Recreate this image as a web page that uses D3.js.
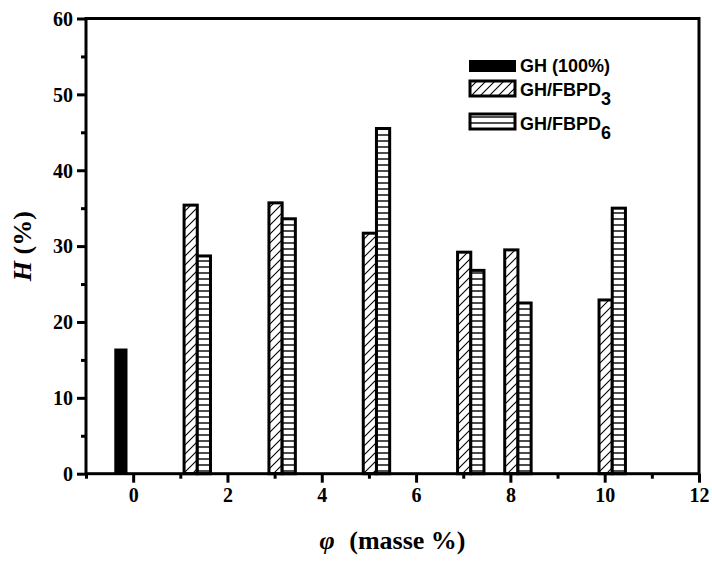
<!DOCTYPE html>
<html>
<head>
<meta charset="utf-8">
<script src="https://cdn.jsdelivr.net/npm/d3@7"></script>
<style>
  body { margin: 0; background: #fff; }
  svg { display: block; }
  .tick text { font-family: "Liberation Serif", "Times New Roman", serif; font-weight: bold; font-size: 20px; }
</style>
</head>
<body>
<svg id="chart" width="712" height="561"></svg>
<script>
// data
const seriesNames = ["GH (100%)", "GH/FBPD3", "GH/FBPD6"];
const ghX = [0];
const ghValues = [16.5];
const mixX = [1.2, 3, 5, 7, 8, 10];
const fbpd3Values = [35.4, 35.7, 31.7, 29.2, 29.5, 22.9];
const fbpd6Values = [28.7, 33.6, 45.5, 26.8, 22.5, 35.0];
const xTicks = [0, 2, 4, 6, 8, 10, 12];
const yTicks = [0, 10, 20, 30, 40, 50, 60];

const svg = d3.select("#chart");
const plotLeft = 86, plotRight = 699, plotTop = 18.5, plotBottom = 473.7;

const x = d3.scaleLinear().domain([-1, 12]).range([plotLeft, plotRight]);
const y = d3.scaleLinear().domain([0, 60]).range([plotBottom, plotTop]);

const barW = 0.28; // in x units
const shift = 0.02;

// patterns
const defs = svg.append("defs");
const diag = defs.append("pattern")
  .attr("id", "diag")
  .attr("patternUnits", "userSpaceOnUse")
  .attr("width", 9).attr("height", 9);
diag.append("rect").attr("width", 9).attr("height", 9).attr("fill", "#fff");
diag.append("path")
  .attr("d", "M-1,10 L10,-1 M-1,1 L1,-1 M8,10 L10,8")
  .attr("stroke", "#000").attr("stroke-width", 1.1);

const horiz = defs.append("pattern")
  .attr("id", "horiz")
  .attr("patternUnits", "userSpaceOnUse")
  .attr("width", 6).attr("height", 6);
horiz.append("rect").attr("width", 6).attr("height", 6).attr("fill", "#fff");
horiz.append("path")
  .attr("d", "M0,3 L6,3")
  .attr("stroke", "#000").attr("stroke-width", 1.4);

// build bar records
let bars = [];
ghX.forEach((v, i) => bars.push({ x: v, k: 0, value: ghValues[i] }));
mixX.forEach((v, i) => {
  bars.push({ x: v, k: 1, value: fbpd3Values[i] });
  bars.push({ x: v, k: 2, value: fbpd6Values[i] });
});

const fills = ["#000", "url(#diag)", "url(#horiz)"];

svg.append("g").selectAll("rect")
  .data(bars)
  .join("rect")
  .attr("x", d => x(d.x + (d.k - 1.5) * barW + shift))
  .attr("width", d => x(barW) - x(0))
  .attr("y", d => y(d.value))
  .attr("height", d => y(0) - y(d.value))
  .attr("fill", d => fills[d.k])
  .attr("stroke", d => d.k === 0 ? "none" : "#000")
  .attr("stroke-width", 3);

// axes
const xAxis = svg.append("g")
  .attr("transform", `translate(0,${plotBottom})`)
  .call(d3.axisBottom(x).tickValues(xTicks).tickSize(9).tickPadding(5).tickFormat(d3.format("d")));
const xMinor = svg.append("g")
  .attr("transform", `translate(0,${plotBottom})`)
  .call(d3.axisBottom(x).tickValues(d3.range(-1, 13, 2)).tickSize(5).tickFormat(""));

const yAxis = svg.append("g")
  .attr("transform", `translate(${plotLeft},0)`)
  .call(d3.axisLeft(y).tickValues(yTicks).tickSize(9).tickPadding(4));
const yMinor = svg.append("g")
  .attr("transform", `translate(${plotLeft},0)`)
  .call(d3.axisLeft(y).tickValues(d3.range(5, 60, 10)).tickSize(5).tickFormat(""));

[xAxis, xMinor, yAxis, yMinor].forEach(g => {
  g.select(".domain").remove();
  g.selectAll(".tick line").attr("stroke", "#000").attr("stroke-width", 3);
});
xAxis.selectAll(".tick text").attr("fill", "#000");
yAxis.selectAll(".tick text").attr("fill", "#000").attr("dy", "0.34em");

// frame
svg.append("rect")
  .attr("x", plotLeft).attr("y", plotTop)
  .attr("width", plotRight - plotLeft).attr("height", plotBottom - plotTop)
  .attr("fill", "none").attr("stroke", "#000").attr("stroke-width", 3);

// axis titles
const serif = "'Liberation Serif', 'Times New Roman', serif";
const xt = svg.append("text")
  .attr("x", (plotLeft + plotRight) / 2).attr("y", 549)
  .attr("text-anchor", "middle")
  .attr("font-family", serif).attr("font-weight", "bold").attr("font-size", 26);
xt.append("tspan").attr("font-style", "italic").text("φ");
xt.append("tspan").attr("dx", 8).text(" (masse %)");

const yt = svg.append("text")
  .attr("transform", `translate(31,${(plotTop + plotBottom) / 2}) rotate(-90)`)
  .attr("text-anchor", "middle")
  .attr("font-family", serif).attr("font-weight", "bold").attr("font-size", 26);
yt.append("tspan").attr("font-style", "italic").text("H");
yt.append("tspan").text(" (%)");

// legend
const sans = "'Liberation Sans', Arial, sans-serif";
const legendRows = [
  { y: 60, h: 12, main: "GH (100%)", sub: "", base: 72 },
  { y: 81, h: 15, main: "GH/FBPD", sub: "3", base: 96 },
  { y: 114, h: 15, main: "GH/FBPD", sub: "6", base: 130 }
];
const lg = svg.append("g");
legendRows.forEach((r, i) => {
  lg.append("rect")
    .attr("x", i === 0 ? 469 : 470).attr("y", r.y)
    .attr("width", i === 0 ? 47 : 45).attr("height", r.h)
    .attr("fill", fills[i])
    .attr("stroke", i === 0 ? "none" : "#000")
    .attr("stroke-width", 3);
  const t = lg.append("text")
    .attr("x", 520).attr("y", r.base)
    .attr("font-family", sans).attr("font-weight", "bold").attr("font-size", 18);
  t.append("tspan").text(r.main);
  if (r.sub) t.append("tspan").attr("dy", 9).text(r.sub);
});
</script>
</body>
</html>
